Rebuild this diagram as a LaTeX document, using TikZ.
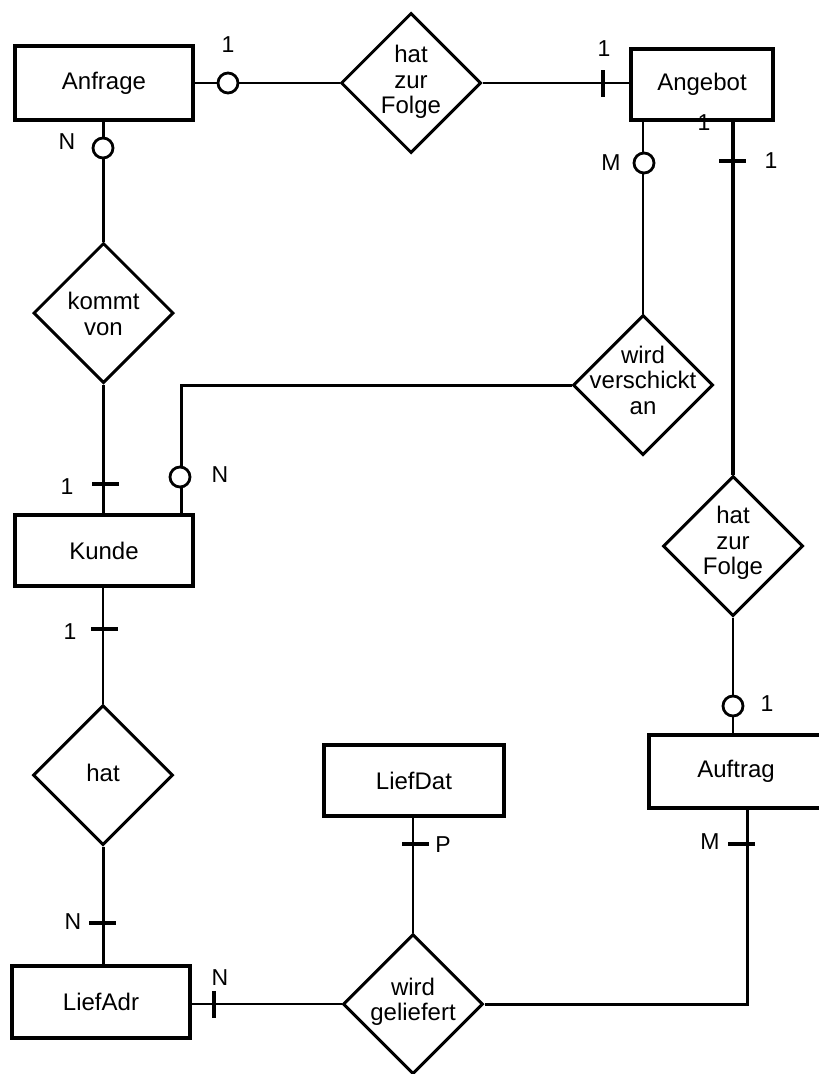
\documentclass[tikz,border=0pt]{standalone}
\usepackage{fontspec}
\setmainfont{Liberation Sans}
\usetikzlibrary{shapes.geometric,calc}
\begin{document}
\begin{tikzpicture}[x=1pt,y=-1pt,
  entity/.style={draw,line width=4pt,rectangle,inner sep=0pt,font=\fontsize{24}{26}\selectfont},
  rel/.style={draw,diamond,aspect=1,line width=3pt,minimum width=140pt,minimum height=140pt,inner sep=0pt},
  reltext/.style={align=center,font=\fontsize{24}{25.5}\selectfont,inner sep=0pt},
  conn/.style={line width=2.6pt},
  ring/.style={circle,draw,fill=white,line width=2.8pt,minimum size=20pt,inner sep=0pt},
  tickh/.style={fill=black,minimum width=27pt,minimum height=3.5pt,inner sep=0pt},
  tickv/.style={fill=black,minimum width=3.5pt,minimum height=27pt,inner sep=0pt},
  card/.style={font=\fontsize{23}{25}\selectfont,inner sep=0pt}
]
\useasboundingbox (0,0) rectangle (819,1074);

% entities
\node[entity,minimum width=178pt,minimum height=74pt] (anfrage) at (104,83) {Anfrage};
\node[entity,minimum width=142pt,minimum height=71pt] (angebot) at (702,84.5) {Angebot};
\node[entity,minimum width=178pt,minimum height=71pt] (kunde) at (104,550.5) {Kunde};
\node[entity,minimum width=180pt,minimum height=71pt] (liefdat) at (414,780.5) {LiefDat};
\node[entity,minimum width=174pt,minimum height=73pt] (auftrag) at (736,771.5) {Auftrag};
\node[entity,minimum width=178pt,minimum height=72pt] (liefadr) at (101,1002) {LiefAdr};

% relationships
\node[rel] (hz1) at (411,83) {};
\node[reltext] (hz1t) at (411,82) {hat\\zur\\Folge};
\node[rel] (kv) at (103.5,313) {};
\node[reltext] (kvt) at (103.5,314) {kommt\\von};
\node[rel] (wva) at (643,385) {};
\node[reltext] (wvat) at (643,380) {wird\\verschickt\\an};
\node[rel] (hz2) at (733,546) {};
\node[reltext] (hz2t) at (733,543) {hat\\zur\\Folge};
\node[rel] (hat) at (103,775) {};
\node[reltext] (hatt) at (103,773) {hat};
\node[rel] (wg) at (413,1004) {};
\node[reltext] (wgt) at (413,1002) {wird\\geliefert};

% connectors
\draw[conn] (anfrage.east) -- (hz1.west);
\draw[conn] (hz1.east) -- (hz1.east -| angebot.west);
\draw[conn,line width=3pt] (kv.north |- anfrage.south) -- (kv.north);
\draw[conn,line width=3pt] (kv.south) -- (kv.south |- kunde.north);
\draw[conn,line width=3pt] (wva.west) -| ($(kunde.north west)!0.927!(kunde.north east)$);
\draw[conn] (wva.north |- angebot.south) -- (wva.north);
\draw[conn,line width=3.2pt] (hz2.north |- angebot.south) -- (hz2.north);
\draw[conn] (hz2.south) -- (hz2.south |- auftrag.north);
\draw[conn] (kunde.south -| hat.north) -- (hat.north);
\draw[conn,line width=3pt] (hat.south) -- (hat.south |- liefadr.north);
\draw[conn] (liefadr.east |- wg.west) -- (wg.west);
\draw[conn] (wg.north |- liefdat.south) -- (wg.north);
\draw[conn,line width=3pt] ($(auftrag.south)+(11,0)$) |- (wg.east);

% optional-cardinality rings
\node[ring] (r1) at (228,83) {};
\node[ring] (r2) at (103,148) {};
\node[ring] (r3) at (180,477) {};
\node[ring] (r4) at (644,163) {};
\node[ring] (r5) at (733,706) {};

% mandatory ticks
\node[tickv] (t1) at (603,83) {};
\node[tickh] (t2) at (105,484) {};
\node[tickh] (t3) at (732,161) {};
\node[tickh] (t4) at (104,629) {};
\node[tickh] (t5) at (102,923) {};
\node[tickv] (t6) at (214,1004) {};
\node[tickh] (t7) at (415,844) {};
\node[tickh] (t8) at (741,844) {};

% cardinality labels
\node[card] (c1) at (228,45) {1};
\node[card] (c2) at (604,49) {1};
\node[card] (c3) at (67,142) {N};
\node[card] (c4) at (67,487) {1};
\node[card] (c5) at (220,475) {N};
\node[card] (c6) at (611,163) {M};
\node[card] (c7) at (771,161) {1};
\node[card] (c8) at (704,123) {1};
\node[card] (c9) at (767,704) {1};
\node[card] (c10) at (70,632) {1};
\node[card] (c11) at (73,922) {N};
\node[card] (c12) at (220,978) {N};
\node[card] (c13) at (443,845) {P};
\node[card] (c14) at (710,842) {M};
\end{tikzpicture}
\end{document}
